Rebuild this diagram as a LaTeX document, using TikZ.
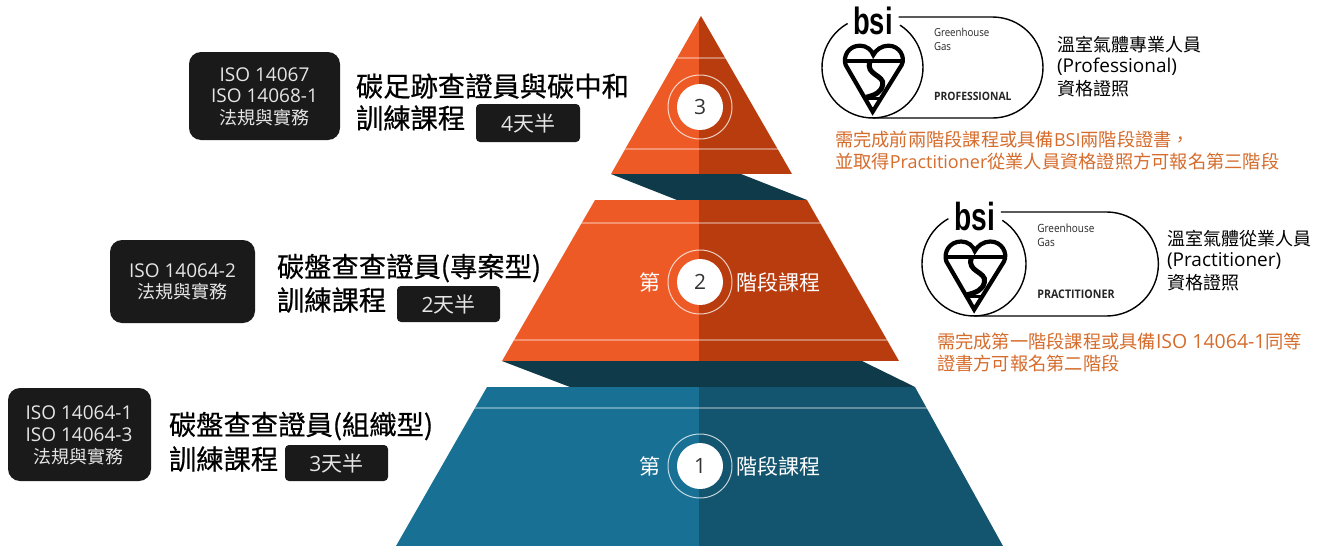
\documentclass[tikz,border=0pt]{standalone}
\usepackage{fontspec}
\setmainfont{Open Sans}
\newfontfamily\cj{Noto Sans CJK TC}
\newfontfamily\cjm[FakeBold=0.6]{Noto Sans CJK TC}
\newfontfamily\lib{Liberation Sans}
\usetikzlibrary{calc}
\definecolor{orL}{HTML}{EE5A26}
\definecolor{orD}{HTML}{B93C0E}
\definecolor{teL}{HTML}{187194}
\definecolor{teD}{HTML}{13546E}
\definecolor{navy}{HTML}{0E3A4A}
\definecolor{boxc}{HTML}{1A1A1A}
\definecolor{note}{HTML}{D56C2C}
\tikzset{
  every node/.style={inner sep=0pt,outer sep=0pt},
  band/.style={white,opacity=.35,line width=1.4pt},
  ring/.style={draw=white,draw opacity=.75,line width=1pt,fill=none},
  disk/.style={fill=white,draw=none},
  numtxt/.style={text=black!80,font=\fontsize{21}{21}\selectfont},
  stagetxt/.style={text=white,font=\cj\fontsize{21}{21}\selectfont},
  darkbox/.style={fill=boxc,rounded corners=12pt,draw=none},
  chip/.style={fill=boxc,rounded corners=4pt,draw=none},
  boxtxt/.style={text=black!10,font=\fontsize{19}{19}\selectfont},
  boxcj/.style={text=black!10,font=\cj\fontsize{18}{18}\selectfont},
  chiptxt/.style={text=black!10,font=\fontsize{21}{21}\selectfont},
  title/.style={anchor=west,text=black,font=\cjm\fontsize{27.3}{27.3}\selectfont},
  side/.style={anchor=west,text=black,font=\fontsize{19}{19}\selectfont},
  sidecj/.style={anchor=west,text=black,font=\cj\fontsize{18}{18}\selectfont},
  notetxt/.style={anchor=west,text=note,font=\fontsize{18}{18}\selectfont},
  logoline/.style={black,line width=1.4pt},
  heart/.style={black,line width=4.2pt,line join=miter},
}
\newcommand{\Cj}[1]{{\cj\fontsize{18.25}{18.25}\selectfont #1}}
\newcommand{\Cjc}[1]{{\cj #1}}
% #1 name #2 cx #3 cy #4 scale #5 pill arc centre (local) #6 grade
\newcommand{\bsilogo}[6]{%
\begin{scope}[shift={(#2,#3)},scale=#4,transform shape]
  \draw[logoline] (27.5,-42.4) arc[start angle=-57,end angle=240.5,radius=50.5];
  \draw[logoline] (26,-50.5) -- (#5,-50.5) arc[start angle=-90,end angle=90,radius=50.5] -- (0,50.5);
  \node[text=black,font=\lib\bfseries\fontsize{38}{38}\selectfont] (#1b) at (0.5,-46.5) {\scalebox{.72}[1]{bsi}};
  \node[anchor=west,font=\fontsize{11}{11}\selectfont,text=black!85] (#1g) at (61.5,-34.8) {\scalebox{.88}[1]{Greenhouse}};
  \node[anchor=west,font=\fontsize{11}{11}\selectfont,text=black!85] (#1h) at (61.5,-20.8) {\scalebox{.88}[1]{Gas}};
  \node[anchor=west,font=\bfseries\fontsize{11.5}{11.5}\selectfont,text=black!85] (#1p) at (61.5,29.2) {\scalebox{.9}[1]{#6}};
  \begin{scope}[shift={(-62.5,-67.5)},scale=1/3]
    \draw[heart] (188,335) -- (107,195) .. controls (98,170) and (115,137) .. (150,137) .. controls (170,137) and (185,150) .. (190,165) .. controls (197,150) and (215,137) .. (235,137) .. controls (268,137) and (287,170) .. (275,195) -- cycle;
    \draw[heart] (107,182) -- (275,182);
    \draw[black,line width=5pt] (180,185) .. controls (165,225) and (225,225) .. (218,255) .. controls (213,278) and (195,285) .. (168,292);
    \draw[black,line width=3pt] (165,296) -- (212,296);
    \fill[white] (180,304) -- (196,304) -- (188,320) -- cycle;
  \end{scope}
\end{scope}}
\begin{document}
\begin{tikzpicture}[x=1pt,y=-1pt]
\useasboundingbox (0,0) rectangle (1326,546);
% connecting dark slabs
\fill[navy] (611,174) -- (741,174) -- (807,200) -- (677,200) -- cycle;
\fill[navy] (502,361) -- (862,361) -- (915,387) -- (570,387) -- cycle;
% top piece
\begin{scope}
  \clip (701,16) -- (792,174) -- (611,174) -- cycle;
  \fill[orL] (600,10) rectangle (699,174);
  \fill[orD] (699,10) rectangle (800,174);
  \draw[band] (600,58) -- (800,58);
  \draw[band] (600,149) -- (800,149);
\end{scope}
% middle piece
\begin{scope}
  \clip (595,200) -- (807,200) -- (899,361) -- (502,361) -- cycle;
  \fill[orL] (500,200) rectangle (699,361);
  \fill[orD] (699,200) rectangle (900,361);
  \draw[band] (500,223) -- (900,223);
  \draw[band] (500,340) -- (900,340);
\end{scope}
% bottom piece
\begin{scope}
  \clip (487,387) -- (915,387) -- (1003,546) -- (396,546) -- cycle;
  \fill[teL] (390,387) rectangle (699,546);
  \fill[teD] (699,387) rectangle (1010,546);
  \draw[band] (390,408) -- (1010,408);
\end{scope}
% stage circles
\draw[ring] (700,107) circle[radius=32];
\fill[disk] (700,107) circle[radius=23];
\node[numtxt] (n3) at (700,107) {3};
\draw[ring] (700,282) circle[radius=32];
\fill[disk] (700,282) circle[radius=23];
\node[numtxt] (n2) at (700,282) {2};
\draw[ring] (700,466) circle[radius=32];
\fill[disk] (700,466) circle[radius=23];
\node[numtxt] (n1) at (700,466) {1};
\node[stagetxt] (s2a) at (650,282) {第};
\node[stagetxt,anchor=west] (s2b) at (736,282) {階段課程};
\node[stagetxt] (s1a) at (650,466) {第};
\node[stagetxt,anchor=west] (s1b) at (736,466) {階段課程};
% left boxes
\fill[darkbox] (189,52) rectangle (340,140);
\node[boxtxt] (b3a) at (264.5,75) {ISO 14067};
\node[boxtxt] (b3b) at (264.5,96) {ISO 14068-1};
\node[boxcj] (b3c) at (264.5,118) {法規與實務};
\fill[darkbox] (110,240) rectangle (255,323);
\node[boxtxt] (b2a) at (182.5,271) {ISO 14064-2};
\node[boxcj] (b2b) at (182.5,292) {法規與實務};
\fill[darkbox] (8,388) rectangle (151,481);
\node[boxtxt] (b1a) at (79,413) {ISO 14064-1};
\node[boxtxt] (b1b) at (79,435) {ISO 14064-3};
\node[boxcj] (b1c) at (79,457) {法規與實務};
% titles
\node[title] (t3a) at (356,86) {碳足跡查證員與碳中和};
\node[title] (t3b) at (356,118) {訓練課程};
\fill[chip] (476,104) rectangle (580,142);
\node[chiptxt] (c3) at (528,123) {4\Cjc{天半}};
\node[title] (t2a) at (277,268) {碳盤查查證員(專案型)};
\node[title] (t2b) at (277,300) {訓練課程};
\fill[chip] (397,286) rectangle (500,322);
\node[chiptxt] (c2) at (448.5,304) {2\Cjc{天半}};
\node[title] (t1a) at (169,426) {碳盤查查證員(組織型)};
\node[title] (t1b) at (169,459) {訓練課程};
\fill[chip] (285,445) rectangle (388,481);
\node[chiptxt] (c1) at (336.5,463) {3\Cjc{天半}};
% logos
\bsilogo{la}{872.5}{67.5}{1}{120}{PROFESSIONAL}
\bsilogo{lb}{974}{264}{1.03}{128.5}{PRACTITIONER}
% side texts
\node[sidecj] (p1) at (1057,45) {溫室氣體專業人員};
\node[side] (p2) at (1057,67) {(Professional)};
\node[sidecj] (p3) at (1057,89) {資格證照};
\node[sidecj] (q1) at (1167,239) {溫室氣體從業人員};
\node[side] (q2) at (1167,261) {(Practitioner)};
\node[sidecj] (q3) at (1167,283) {資格證照};
\node[notetxt] (o1) at (835,140) {\Cj{需完成前兩階段課程或具備}BSI\Cj{兩階段證書，}};
\node[notetxt] (o2) at (835,162) {\Cj{並取得}Practitioner\Cj{從業人員資格證照方可報名第三階段}};
\node[notetxt] (o3) at (937,342) {\Cj{需完成第一階段課程或具備}{\fontsize{19.5}{19.5}\selectfont ISO 14064-1}\Cj{同等}};
\node[notetxt] (o4) at (937,364) {\Cj{證書方可報名第二階段}};
\end{tikzpicture}
\end{document}
